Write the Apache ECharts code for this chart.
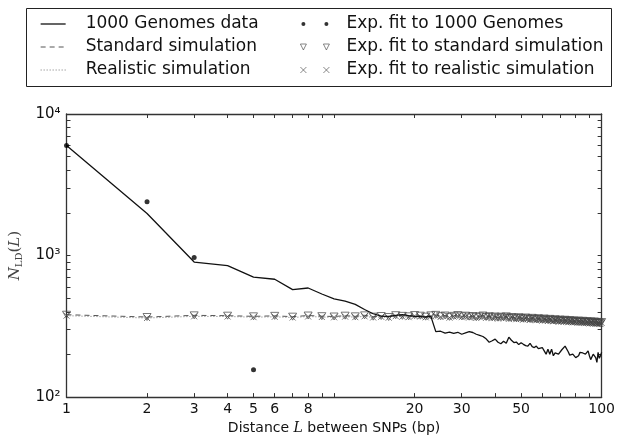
<!DOCTYPE html>
<html><head><meta charset="utf-8">
<script src="https://cdn.jsdelivr.net/npm/echarts@6/dist/echarts.min.js"></script>
<style>html,body{margin:0;padding:0;background:#fff}#c{width:618px;height:440px}</style>
</head><body><div id="c"></div>
<script>
// Distance L (bp)
const distances = [1,2,3,4,5,6,7,8,9,10,11,12,13,14,15,16,17,18,19,20,21,22,23,24,25,26,27,28,29,30,31,32,33,34,35,36,37,38,39,40,41,42,43,44,45,46,47,48,49,50,51,52,53,54,55,56,57,58,59,60,61,62,63,64,65,66,67,68,69,70,71,72,73,74,75,76,77,78,79,80,81,82,83,84,85,86,87,88,89,90,91,92,93,94,95,96,97,98,99,100];
// 1000 Genomes data
const genomes = [6000,1980,900,850,705,680,575,590,535,495,476,452,416,388,373,372,378,382,376,372,370,368,372,290,292,283,288,282,287,278,284,290,286,278,273,268,258,244,250,257,244,238,248,240,265,252,243,245,235,242,236,231,229,240,227,224,229,220,218,224,212,201,218,201,218,196,205,207,201,207,216,218,229,236,209,198,196,201,199,190,186,196,207,212,205,207,201,207,212,196,184,181,201,207,190,176,207,188,196,207];
// Standard simulation
const standardSim = [382,368,378,376,372,375,370,377,373,371,376,372,378,370,374,368,379,375,372,380,376,370,378,381,373,377,369,375,380,372,376,370,374,367,372,377,368,373,366,371,364,370,366,372,362,368,364,360,367,362,358,365,360,356,363,358,354,361,356,352,359,354,350,357,352,348,355,350,346,353,349,345,352,347,343,350,346,342,348,344,340,347,343,339,346,341,338,344,340,336,343,339,335,342,337,334,340,336,333,339];
// Realistic simulation
const realisticSim = [376,362,372,371,367,369,365,371,368,366,370,367,372,365,369,364,373,370,367,374,371,366,372,375,368,372,364,370,374,367,370,365,369,362,367,371,363,368,361,366,359,365,361,367,357,363,359,355,362,357,353,360,355,351,358,353,349,356,351,347,354,349,345,352,347,343,350,345,341,348,344,340,347,342,338,345,341,337,343,339,335,342,338,334,341,336,333,339,335,331,338,334,330,337,332,329,335,331,328,334];
// Exp. fit to 1000 Genomes (visible points)
const fitGenomesL = [1,2,3,5];
const fitGenomesVal = [6000,2400,970,156];
// Tick labels
const xLabelValues = [1,2,3,4,5,6,8,20,30,50,100];
const xTickValues = [1,2,3,4,5,6,7,8,9,10,20,30,40,50,60,70,80,90,100];
const yLabelValues = [100,1000,10000];
const yLabelText = {100:'10²',1000:'10³',10000:'10⁴'};
const yTickValues = [100,200,300,400,500,600,700,800,900,1000,2000,3000,4000,5000,6000,7000,8000,9000,10000];

const pair = (xs, ys) => xs.map((x,i)=>[x, ys[i]]);
const FONT = 'DejaVu Sans';
const AX = '#333';
const SIM = '#555';
const SIM2 = '#777';
const MK = '#444';
const crossPath = 'path://M0,0L10,10M0,10L10,0';

const chart = echarts.init(document.getElementById('c'), null, {renderer:'canvas'});
const baseX = {
  type:'log', logBase:10, min:1, max:100,
  axisLine:{onZero:false, lineStyle:{color:AX, width:1.3}},
  splitLine:{show:false}, minorTick:{show:false}
};
const baseY = {
  type:'log', logBase:10, min:100, max:10000,
  axisLine:{onZero:false, lineStyle:{color:AX, width:1.3}},
  splitLine:{show:false}, minorTick:{show:false}
};
const legText = {fontSize:17, lineHeight:20, color:'#111', fontFamily:FONT};
const hiddenSym = {color:'rgba(0,0,0,0)', borderWidth:0, opacity:0};
chart.setOption({
  animation:false,
  textStyle:{fontFamily:FONT},
  grid:{left:65, top:114, right:16, bottom:36, containLabel:false},
  graphic:[{type:'rect', shape:{x:26.5, y:8.5, width:585, height:78}, style:{fill:'none', stroke:'#222', lineWidth:1}, silent:true}],
  legend:[
    {orient:'vertical', left:40, top:14, itemWidth:25, itemHeight:14, itemGap:3, padding:0,
     textStyle:Object.assign({}, legText, {padding:[0,0,0,15]}),
     data:[
      {name:'1000 Genomes data', itemStyle:hiddenSym, lineStyle:{color:'#111', width:1.3, type:'solid'}},
      {name:'Standard simulation', itemStyle:hiddenSym, lineStyle:{color:SIM, width:1, type:[5,4]}},
      {name:'Realistic simulation', itemStyle:hiddenSym, lineStyle:{color:SIM2, width:1, type:[1,2]}}]},
    {orient:'vertical', left:300, top:14, itemWidth:29, itemHeight:14, itemGap:3, padding:0,
     textStyle:Object.assign({}, legText, {padding:[0,0,0,12]}),
     data:[
      {name:'Exp. fit to 1000 Genomes', icon:'path://M1,7a2,2 0 1,0 4,0a2,2 0 1,0 -4,0M24,7a2,2 0 1,0 4,0a2,2 0 1,0 -4,0M0,0L0,0M29,14L29,14', itemStyle:{color:'#000'}},
      {name:'Exp. fit to standard simulation', icon:'path://M0,4L6,4L3,10ZM23,4L29,4L26,10ZM0,0L0,0M29,14L29,14', itemStyle:{color:'rgba(0,0,0,0)', borderColor:MK, borderWidth:0.8}},
      {name:'Exp. fit to realistic simulation', icon:'path://M0,4L6,10M0,10L6,4M23,4L29,10M23,10L29,4M0,0L0,0M29,14L29,14', itemStyle:{color:'rgba(0,0,0,0)', borderColor:MK, borderWidth:0.8}}
     ]}
  ],
  xAxis:[
    Object.assign({}, baseX, {position:'bottom',
      name:'{t|Distance }{i|L}{t| between SNPs (bp)}', nameLocation:'middle', nameGap:22,
      nameTextStyle:{rich:{t:{fontSize:14, fontFamily:FONT, color:'#111'}, i:{fontSize:14, fontFamily:'DejaVu Serif', fontStyle:'italic', color:'#111'}}},
      axisTick:{inside:true, length:4, lineStyle:{color:AX}, customValues:xTickValues},
      axisLabel:{fontSize:14, color:'#111', margin:5, customValues:xLabelValues, formatter:v=>String(Math.round(v))}}),
    Object.assign({}, baseX, {position:'top',
      axisTick:{inside:true, length:4, lineStyle:{color:AX}, customValues:xTickValues},
      axisLabel:{show:false}})
  ],
  yAxis:[
    Object.assign({}, baseY, {position:'left',
      name:'{i|N}{s|LD}{t|(}{i|L}{t|)}', nameLocation:'middle', nameGap:36, nameRotate:90,
      nameTextStyle:{rich:{t:{fontSize:15, fontFamily:'DejaVu Serif', color:'#444'}, i:{fontSize:15, fontFamily:'DejaVu Serif', fontStyle:'italic', color:'#444'}, s:{fontSize:10, fontFamily:'DejaVu Serif', color:'#444', verticalAlign:'bottom', padding:[8,0,0,0]}}},
      axisTick:{inside:true, length:4, lineStyle:{color:AX}, customValues:yTickValues},
      axisLabel:{fontSize:15, color:'#111', margin:6, customValues:yLabelValues, formatter:v=>yLabelText[Math.round(v)]||''}}),
    Object.assign({}, baseY, {position:'right',
      axisTick:{inside:true, length:4, lineStyle:{color:AX}, customValues:yTickValues},
      axisLabel:{show:false}})
  ],
  series:[
    {name:'1000 Genomes data', type:'line', data:pair(distances, genomes), showSymbol:false, symbol:'none',
     lineStyle:{color:'#111', width:1.3}, itemStyle:{color:'#111'}, z:5},
    {name:'Standard simulation', type:'line', data:pair(distances, standardSim), showSymbol:false, symbol:'none',
     lineStyle:{color:SIM, width:1, type:[5,4]}, itemStyle:{color:SIM}, z:3},
    {name:'Realistic simulation', type:'line', data:pair(distances, realisticSim), showSymbol:false, symbol:'none',
     lineStyle:{color:SIM2, width:1, type:[1,2]}, itemStyle:{color:SIM2}, z:3},
    {name:'Exp. fit to 1000 Genomes', type:'scatter', data:pair(fitGenomesL, fitGenomesVal), symbol:'circle', symbolSize:5,
     itemStyle:{color:'#000'}, z:6},
    {name:'Exp. fit to standard simulation', type:'scatter', data:pair(distances, standardSim), symbol:'triangle', symbolRotate:180, symbolSize:[8,7],
     itemStyle:{color:'rgba(0,0,0,0)', borderColor:MK, borderWidth:0.9}, z:4},
    {name:'Exp. fit to realistic simulation', type:'scatter', data:pair(distances, realisticSim), symbol:crossPath, symbolSize:6,
     itemStyle:{color:'rgba(0,0,0,0)', borderColor:MK, borderWidth:0.9}, z:4}
  ]
});
</script></body></html>
